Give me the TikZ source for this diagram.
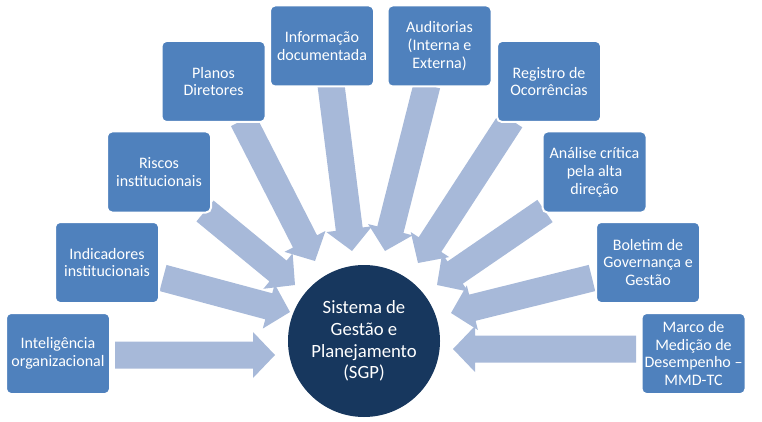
\documentclass[tikz,border=0pt]{standalone}
\usepackage{fontspec}
\setmainfont{Carlito}
\usetikzlibrary{calc}
\definecolor{boxblue}{HTML}{4F81BD}
\definecolor{arrowblue}{HTML}{A7B9D9}
\definecolor{hubnavy}{HTML}{17375E}
\tikzset{
 stagebox/.style={fill=boxblue, draw=white, line width=2pt, rounded corners=5pt,
   minimum width=104pt, minimum height=81pt, inner sep=2pt, align=center,
   text=white, font=\fontsize{16}{17.8}\selectfont},
 hub/.style={circle, fill=hubnavy, minimum size=152pt, inner sep=0pt, align=center,
   text=white, font=\fontsize{18.7}{21.7}\selectfont},
 arrowfill/.style={fill=arrowblue}
}
\newcommand\blockarrow[2]{%
 \coordinate (hb) at ($(#2)!22pt!(#1)$);
 \fill[arrowfill] ($(#1)!13.5pt!90:(#2)$) -- ($(hb)!13.5pt!90:(#2)$) -- ($(hb)!23pt!90:(#2)$) -- (#2)
   -- ($(hb)!23pt!-90:(#2)$) -- ($(hb)!13.5pt!-90:(#2)$) -- ($(#1)!13.5pt!-90:(#2)$) -- cycle;
}
\begin{document}
\begin{tikzpicture}[x=1pt,y=-1pt]
\useasboundingbox (0,0) rectangle (762,422);
% arrow coordinates
\coordinate (s1) at (115,355);  \coordinate (t1) at (275,355);
\coordinate (s2) at (163,278);  \coordinate (t2) at (290,312);
\coordinate (s3) at (205,211);  \coordinate (t3) at (295,285);
\coordinate (s4) at (243,120);  \coordinate (t4) at (315,261);
\coordinate (s5) at (331,85);   \coordinate (t5) at (352,251);
\coordinate (s6) at (427,85);   \coordinate (t6) at (385,251);
\coordinate (s7) at (511,120);  \coordinate (t7) at (418,263);
\coordinate (s8) at (545,211);  \coordinate (t8) at (437,285);
\coordinate (s9) at (592,278);  \coordinate (t9) at (451,313);
\coordinate (s10) at (636,349); \coordinate (t10) at (453,349);
\blockarrow{s1}{t1}
\blockarrow{s2}{t2}
\blockarrow{s3}{t3}
\blockarrow{s4}{t4}
\blockarrow{s5}{t5}
\blockarrow{s6}{t6}
\blockarrow{s7}{t7}
\blockarrow{s8}{t8}
\blockarrow{s9}{t9}
\blockarrow{s10}{t10}
% boxes
\node[stagebox] (intel)  at (58,353.5)   {Inteligência\\organizacional};
\node[stagebox] (indic)  at (107,262.5)  {Indicadores\\institucionais};
\node[stagebox] (riscos) at (159,172)    {Riscos\\institucionais};
\node[stagebox] (planos) at (213.5,81.5) {Planos\\Diretores};
\node[stagebox] (info)   at (322,46)     {Informação\\documentada};
\node[stagebox] (audit)  at (439.5,46)   {Auditorias\\(Interna e\\Externa)};
\node[stagebox] (regis)  at (549,81.5)   {Registro de\\Ocorrências};
\node[stagebox] (anali)  at (594.5,172)  {Análise crítica\\pela alta\\direção};
\node[stagebox] (bolet)  at (648,262.5)  {Boletim de\\Governança e\\Gestão};
\node[stagebox] (marco)  at (693.5,353.5) {Marco de\\Medição de\\Desempenho –\\MMD-TC};
% hub
\node[hub] (sgp) at (364,341) {Sistema de\\Gestão e\\Planejamento\\(SGP)};
\end{tikzpicture}
\end{document}
